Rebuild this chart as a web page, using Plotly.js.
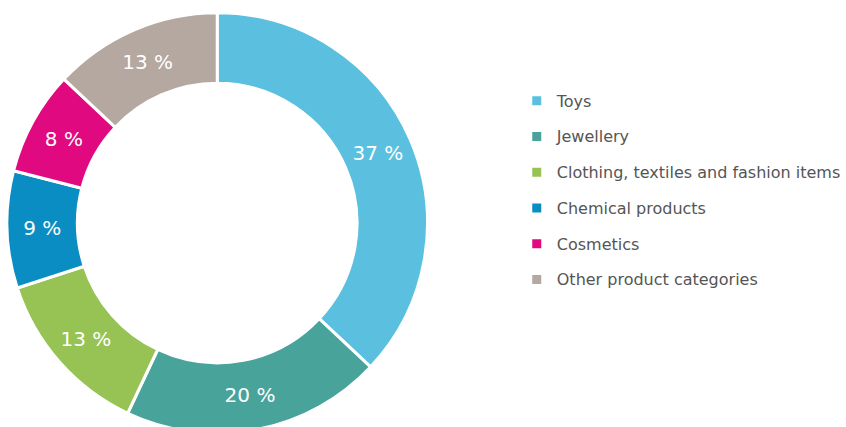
<!DOCTYPE html>
<html>
<head>
<meta charset="utf-8">
<script src="https://cdn.plot.ly/plotly-3.0.1.min.js"></script>
<style>
html, body { margin: 0; padding: 0; overflow: hidden; background: #fff; }
#chart { width: 846px; height: 440px; }
</style>
</head>
<body>
<div id="chart"></div>
<script>
const categories = ["Toys", "Jewellery", "Clothing, textiles and fashion items", "Chemical products", "Cosmetics", "Other product categories"];
const shares = [37, 20, 13, 9, 8, 13];
const sliceColors = ["#5bc0df", "#48a39a", "#96c354", "#0a8dc2", "#e1097f", "#b4a8a0"];

const W = 846, H = 440;
const cx = 218, cy = 223, R = 211;

const trace = {
  type: "pie",
  labels: categories.map(c => '<span style="font-size:16px;baseline-shift:4px">' + c + '</span>'),
  values: shares,
  sort: false,
  direction: "clockwise",
  rotation: 0,
  hole: 0.665,
  marker: { colors: sliceColors, line: { color: "#ffffff", width: 3 } },
  texttemplate: "%{value} %",
  textinfo: "text",
  textposition: "inside",
  insidetextorientation: "horizontal",
  insidetextfont: { color: "#ffffff", size: 20, family: "DejaVu Sans, sans-serif" },
  hoverinfo: "label+percent",
  domain: { x: [(cx - R) / W, (cx + R) / W], y: [(H - cy - R) / H, (H - cy + R) / H] }
};

const layout = {
  width: W,
  height: H,
  margin: { l: 0, r: 0, t: 0, b: 0 },
  paper_bgcolor: "#ffffff",
  showlegend: true,
  legend: {
    x: 0.613, xanchor: "left",
    y: 0.823, yanchor: "top",
    font: { size: 25.2, color: "#555555", family: "DejaVu Sans, sans-serif" },
    bgcolor: "rgba(0,0,0,0)"
  }
};

Plotly.newPlot("chart", [trace], layout, { displayModeBar: false, staticPlot: true });
</script>
</body>
</html>
